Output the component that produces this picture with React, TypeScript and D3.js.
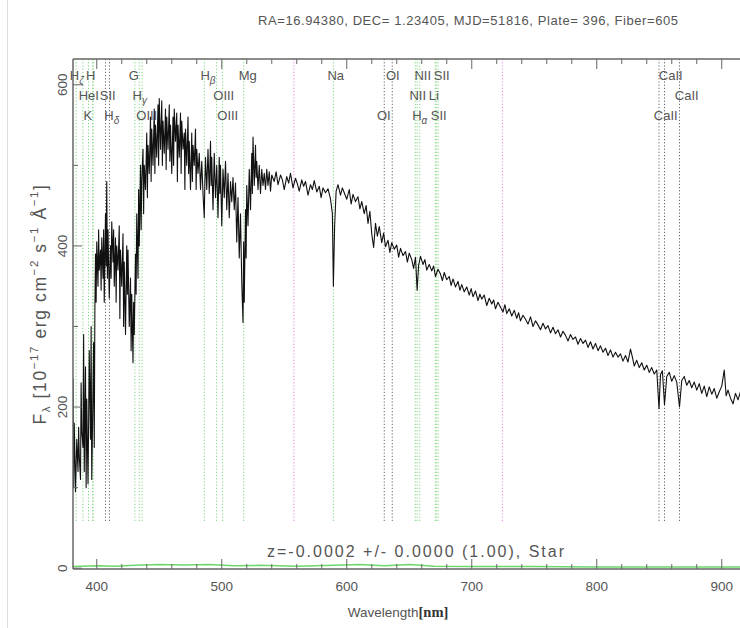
import React from 'react';
import * as d3 from 'd3';

const W = 740;
const H = 628;

const titleText = 'RA=16.94380, DEC= 1.23405, MJD=51816, Plate= 396, Fiber=605';
const redshiftText = 'z=-0.0002 +/- 0.0000 (1.00), Star';
const xTickLabels = [400, 500, 600, 700, 800, 900];
const yTickLabels = [0, 200, 400, 600];
const xDomain: [number, number] = [381, 925];
const yDomain: [number, number] = [-1, 632];

const emissionLines = [383.5, 388.9, 393.4, 396.8, 397.0, 430.5, 434.0, 436.3, 486.1, 495.9, 500.7, 517.5, 589.3, 654.8, 656.3, 658.4, 670.8, 671.6, 673.1];
const absorptionLines = [407.0, 410.2, 630.0, 636.4, 849.8, 854.2, 866.2];
const skyLines = [557.7, 724.5];

type LineLabel = { text: string; sub?: string; wave: number; row: number };
const lineLabels: LineLabel[] = [
  { text: 'H', sub: 'ζ', wave: 384, row: 0 },
  { text: 'H', wave: 395.2, row: 0 },
  { text: 'G', wave: 429.6, row: 0 },
  { text: 'H', sub: 'β', wave: 489, row: 0 },
  { text: 'Mg', wave: 520.8, row: 0 },
  { text: 'Na', wave: 591.2, row: 0 },
  { text: 'OI', wave: 636.8, row: 0 },
  { text: 'NII', wave: 660.8, row: 0 },
  { text: 'SII', wave: 676, row: 0 },
  { text: 'CaII', wave: 859.2, row: 0 },
  { text: 'HeI', wave: 393.6, row: 1 },
  { text: 'SII', wave: 408.8, row: 1 },
  { text: 'H', sub: 'γ', wave: 434.4, row: 1 },
  { text: 'OIII', wave: 501.6, row: 1 },
  { text: 'NII', wave: 656.8, row: 1 },
  { text: 'Li', wave: 669.6, row: 1 },
  { text: 'CaII', wave: 872, row: 1 },
  { text: 'K', wave: 392.8, row: 2 },
  { text: 'H', sub: 'δ', wave: 412, row: 2 },
  { text: 'OIII', wave: 440, row: 2 },
  { text: 'OIII', wave: 504.8, row: 2 },
  { text: 'OI', wave: 629.6, row: 2 },
  { text: 'H', sub: 'α', wave: 658.4, row: 2 },
  { text: 'SII', wave: 673.6, row: 2 },
  { text: 'CaII', wave: 855.2, row: 2 },
];

const spectrumBlue: [number, number][] = [
  [381,235],[381.5,100],[382,180],[383,95],[384,160],[385,120],[385.5,175],[386,140],[387,110],[387.5,230],[388,170],[389,150],[389.5,290],[390,120],[391,250],[391.5,100],[392,210],[393,105],[393.5,180],[394,270],[395,160],[395.5,300],[396,110],[397,220],[397.5,280],[398,150],[398.5,320],[399,390],[399.5,330],[400,405],
  [401,350],[401.5,420],[402,370],[403,395],[403.5,345],[404,410],[405,360],[405.5,420],[406,330],[407,440],[407.5,375],[408,480],[408.5,360],[409,420],[410,335],[411,400],[411.5,360],[412,430],[413,380],[413.5,420],[414,350],[415,410],[415.5,330],[416,400],[417,370],[418,425],[418.5,310],[419,395],[420,350],
  [421,415],[421.5,300],[422,380],[423,290],[424,400],[424.5,340],[425,395],[426,300],[427,360],[427.5,270],[428,340],[429,255],[429.5,330],[430,290],[431,390],[431.5,340],[432,440],[433,360],[433.5,470],[434,400],[435,500],[435.5,420],[436,480],[437,520],[437.5,440],[438,500],[439,470],[440,540],
  [440.5,460],[441,525],[442,490],[443,560],[443.5,480],[444,545],[445,500],[446,570],[446.5,490],[447,550],[448,510],[449,575],[449.5,500],[450,583],[451,520],[452,580],[452.5,500],[453,555],[454,515],[455,570],[455.5,495],[456,560],[457,520],[458,575],[458.5,505],[459,550],[460,490],
  [461,560],[461.5,500],[462,570],[463,530],[464,565],[464.5,480],[465,550],[466,510],[467,565],[467.5,490],[468,555],[469,520],[470,540],[470.5,470],[471,545],[472,500],[473,560],[473.5,490],[474,530],[475,470],[476,540],[476.5,480],[477,525],[478,500],[479,545],[479.5,470],[480,520],
  [481,490],[482,515],[483,470],[484,505],[485,465],[486,435],[486.5,480],[487,510],[488,470],[489,520],[490,465],[491,530],[491.5,475],[492,510],[493,445],[494,515],[495,460],[496,500],[497,435],[498,510],[498.5,465],[499,500],[500,425],
  [501,495],[502,460],[503,505],[504,445],[505,490],[506,435],[507,480],[508,455],[509,485],[510,445],[511,478],[512,405],[513,460],[514,385],[515,440],[516,355],[517,305],[517.5,405],[518,330],[519,445],[519.5,385],[520,475],
  [521,425],[522,495],[523,445],[524,515],[524.5,465],[525,535],[526,475],[527,525],[527.5,485],[528,505],[529,470],[530,500],[531,465],[532,495],[533,475],[534,490],[535,470],[536,495],[537,475],[538,492],[539,468],[540,488],
];

const spectrumRed: [number, number][] = [
  [542,480],[543.5,492],[545,476],[547,488],[548.5,482],[550,470],[552,486],[553.5,478],[555,490],[557,472],[559,484],[560.5,477],[562,468],[564,482],[565.5,474],[567,480],[569,463],[571,476],[572.5,470],[574,481],[576,467],[578,474],[579.5,460],[581,472],[583,466],[585,471],[587,458],[588.5,440],[589.3,350],[590.3,425],
  [591.5,468],[593,476],[595,463],[596.5,472],[598,466],[600,458],[602,470],[603.5,452],[605,464],[607,455],[609,461],[610.5,446],[612,455],[614,440],[615.5,450],[617,428],[618.5,443],[620,415],[621.5,398],[623,428],[624.5,412],[626,424],[628,404],[629.5,416],[631,399],[633,407],[634.5,392],[636,404],[638,396],[640,401],
  [641.5,386],[643,397],[645,388],[647,393],[648.5,380],[650,391],[652,383],[653.5,372],[655,386],[656.3,345],[657.5,376],[659,387],[661,377],[662.5,383],[664,370],[666,377],[668,369],[669.5,375],[671,362],[673,371],[675,365],[676.5,357],[678,367],[680,358],
  [682,362],[683.5,351],[685,359],[687,349],[689,356],[690.5,345],[692,352],[694,343],[696,349],[698,339],[699.5,347],[701,337],[703,344],[705,332],[706.5,340],[708,334],[710,339],[712,326],[714,335],[716,328],[717.5,333],[719,322],[721,330],[723,324],[725,318],
  [726.5,327],[728,316],[730,322],[732,313],[734,320],[736,310],[737.5,317],[739,307],[741,314],[743,309],[745,303],[747,312],[749,300],[751,307],[753,302],[755,296],[757,304],[759,297],[761,301],[763,292],[765,299],[767,291],[769,296],[771,287],[773,294],[775,289],
  [777,282],[779,290],[781,284],[783,287],[785,278],[787,285],[789,279],[791,283],[793,274],[795,281],[797,272],[799,279],[801,270],[803,276],[805,268],[807,273],[809,264],[811,271],[813,262],[815,268],[817,262],[819,266],[821,257],[823,264],[825,256],
  [827,272],[828.5,262],[830,251],[832,258],[834,249],[836,255],[838,246],[840,252],[842,243],[844,249],[846,241],[848,246],[849.8,198],[851,240],[852.5,245],[854.2,203],[856,238],[858,243],[860,232],[862,239],[864,231],[866.2,200],[868,233],[870,238],
  [872,227],[874,233],[876,224],[878,231],[880,221],[882,229],[884,217],[886,226],[888,213],[890,225],[892,216],[894,223],[896,211],[898,219],[900,226],[902,246],[903.5,214],[905,221],[907,211],[909,204],[911,217],[913,209],[915,219],
];

const errorSpectrum: [number, number][] = [
  [381, 2], [400, 3], [415, 2.5], [430, 3.5], [450, 4.5], [470, 4], [490, 4.5], [510, 3], [530, 3.5], [560, 2.5], [590, 3.5], [610, 4.5], [630, 3], [650, 4.5], [670, 2.5], [700, 2], [750, 2], [800, 1.5], [850, 1.5], [925, 1.5],
];

const PLOT_LEFT = 73;
const PLOT_RIGHT = 753;
const PLOT_TOP = 59;
const PLOT_BOTTOM = 569;

const sans = '"Liberation Sans", Arial, sans-serif';
const textColor = '#555';
const axisColor = '#666';

export default function App() {
  const x = d3.scaleLinear().domain(xDomain).range([PLOT_LEFT, PLOT_RIGHT]);
  const y = d3.scaleLinear().domain(yDomain).range([PLOT_BOTTOM, PLOT_TOP]);

  const spectrum = [...spectrumBlue, ...spectrumRed];
  const line = d3
    .line<[number, number]>()
    .x((d) => x(d[0]))
    .y((d) => y(d[1]));

  const minorX = d3.range(400, 921, 20);
  const yTicks = d3.range(0, 601, 100);
  const markerBottom = y(57);

  const markerGroups = [
    { waves: emissionLines, color: '#7fd67f' },
    { waves: absorptionLines, color: '#666' },
    { waves: skyLines, color: '#e680e6' },
  ];

  return (
    <svg
      width={W}
      height={H}
      style={{ position: 'absolute', left: 0, top: 0, background: '#fff', display: 'block' }}
    >
      <rect x={0} y={0} width={W} height={H} fill="#fff" />
      <line x1={7.5} x2={7.5} y1={0} y2={H} stroke="#ddd" strokeWidth={1} />
      <defs>
        <clipPath id="plotClip">
          <rect x={PLOT_LEFT} y={PLOT_TOP} width={PLOT_RIGHT - PLOT_LEFT} height={PLOT_BOTTOM - PLOT_TOP} />
        </clipPath>
      </defs>

      <text
        x={258}
        y={25}
        fontFamily={sans}
        fontSize={13}
        fill={textColor}
        textLength={420}
        lengthAdjust="spacing"
      >
        {titleText}
      </text>

      {/* line markers */}
      <g>
        {markerGroups.map((g, gi) =>
          g.waves.map((w, i) => (
            <line
              key={`m${gi}-${i}`}
              x1={x(w)}
              x2={x(w)}
              y1={PLOT_TOP}
              y2={markerBottom}
              stroke={g.color}
              strokeWidth={1}
              strokeDasharray="1.2,2"
            />
          ))
        )}
      </g>

      {/* line labels */}
      <g fontFamily={sans} fontSize={13} fill={textColor}>
        {lineLabels.map((l, i) => (
          <text key={`l${i}`} x={x(l.wave)} y={80 + l.row * 20} textAnchor="middle">
            {l.text}
            {l.sub ? (
              <tspan fontSize={10} dy={4} fontStyle="italic">
                {l.sub}
              </tspan>
            ) : null}
          </text>
        ))}
      </g>

      {/* error spectrum */}
      <path
        d={line(errorSpectrum) || ''}
        fill="none"
        stroke="#6cd66c"
        strokeWidth={1.5}
        clipPath="url(#plotClip)"
      />

      {/* spectrum */}
      <path
        d={line(spectrum) || ''}
        fill="none"
        stroke="#111"
        strokeWidth={1.1}
        strokeLinejoin="round"
        clipPath="url(#plotClip)"
      />

      {/* frame */}
      <g stroke={axisColor} strokeWidth={1.5} fill="none">
        <line x1={PLOT_LEFT} x2={PLOT_RIGHT} y1={PLOT_BOTTOM} y2={PLOT_BOTTOM} />
        <line x1={PLOT_LEFT} x2={PLOT_RIGHT} y1={PLOT_TOP} y2={PLOT_TOP} />
        <line x1={PLOT_LEFT} x2={PLOT_LEFT} y1={PLOT_TOP} y2={PLOT_BOTTOM} />
        <line x1={PLOT_RIGHT} x2={PLOT_RIGHT} y1={PLOT_TOP} y2={PLOT_BOTTOM} />
      </g>
      <g stroke={axisColor} strokeWidth={1}>
        {minorX.map((t) => {
          const len = t % 100 === 0 ? 10 : 5;
          return (
            <g key={`xt${t}`}>
              <line x1={x(t)} x2={x(t)} y1={PLOT_BOTTOM} y2={PLOT_BOTTOM - len} />
              <line x1={x(t)} x2={x(t)} y1={PLOT_TOP} y2={PLOT_TOP + len} />
            </g>
          );
        })}
        {yTicks.map((t) => {
          const len = t % 200 === 0 ? 9 : 5;
          return <line key={`yt${t}`} x1={PLOT_LEFT} x2={PLOT_LEFT + len} y1={y(t)} y2={y(t)} />;
        })}
      </g>

      {/* x tick labels */}
      <g fontFamily={sans} fontSize={13.5} fill={textColor} textAnchor="middle">
        {xTickLabels.map((t) => (
          <text key={`xl${t}`} x={x(t)} y={591}>
            {t}
          </text>
        ))}
      </g>

      {/* y tick labels (rotated) */}
      <g fontFamily={sans} fontSize={13.5} fill={textColor} textAnchor="middle">
        {yTickLabels.map((t) => (
          <text key={`yl${t}`} transform={`translate(67,${y(t)}) rotate(-90)`}>
            {t}
          </text>
        ))}
      </g>

      {/* y axis title */}
      <text
        transform="translate(46,304) rotate(-90)"
        fontFamily={sans}
        fontSize={17.5}
        letterSpacing={1.6}
        fill={textColor}
        textAnchor="middle"
      >
        F
        <tspan fontSize={11.5} dy={4}>λ</tspan>
        <tspan dy={-4}> [10</tspan>
        <tspan fontSize={11.5} dy={-8}>−17</tspan>
        <tspan dy={8}> erg cm</tspan>
        <tspan fontSize={11.5} dy={-8}>−2</tspan>
        <tspan dy={8}> s</tspan>
        <tspan fontSize={11.5} dy={-8}>−1</tspan>
        <tspan dy={8}> Å</tspan>
        <tspan fontSize={11.5} dy={-8}>−1</tspan>
        <tspan dy={8}>]</tspan>
      </text>

      {/* redshift text */}
      <text
        x={x(655)}
        y={557}
        fontFamily={sans}
        fontSize={16}
        fill={textColor}
        textAnchor="middle"
        textLength={297}
        lengthAdjust="spacing"
      >
        {redshiftText}
      </text>

      {/* x axis title */}
      <text x={398} y={617} fontFamily={sans} fontSize={13.5} fill={textColor} textAnchor="middle">
        Wavelength
        <tspan fontFamily='"Liberation Serif", serif' fontWeight="bold" fontSize={14.5} fill="#333">[nm]</tspan>
      </text>
    </svg>
  );
}
